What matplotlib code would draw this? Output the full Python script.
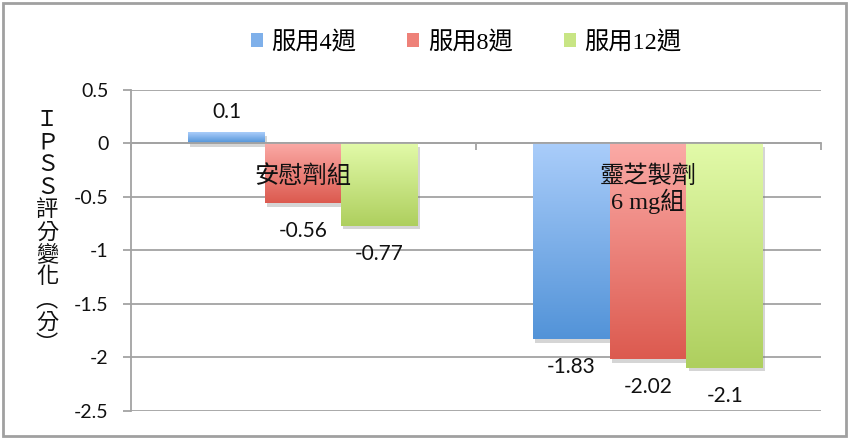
import numpy as np
import matplotlib
matplotlib.use("Agg")
import matplotlib.pyplot as plt
from matplotlib.colors import LinearSegmentedColormap
from matplotlib.patches import Rectangle, Patch
import matplotlib.patheffects as pe

# ---- data ----
categories = ["安慰劑組", "靈芝製劑\n6 mg組"]
series_names = ["服用4週", "服用8週", "服用12週"]
week4 = [0.1, -1.83]
week8 = [-0.56, -2.02]
week12 = [-0.77, -2.1]
yticks = [0.5, 0, -0.5, -1, -1.5, -2, -2.5]
ytick_labels = ["0.5", "0", "-0.5", "-1", "-1.5", "-2", "-2.5"]
ylabel_chars = ["Ｉ", "Ｐ", "Ｓ", "Ｓ", "評", "分", "變", "化", "︵", "分", "︶"]

series = [week4, week8, week12]
light = ["#aacdfa", "#fbaaa6", "#e2faa9"]
dark = ["#5293d8", "#dc5a4f", "#aecf5e"]
mid = ["#7fb0ea", "#ee8179", "#c8e584"]

W, H = 850, 441
fig = plt.figure(figsize=(W / 100, H / 100), dpi=100)
ax = fig.add_axes([130.5 / W, 1 - 410.7 / H, (820.7 - 130.5) / W, (410.7 - 90) / H])

x = np.arange(len(categories))
bw = 0.222
offsets = [-bw, 0, bw]

ax.set_xlim(-0.5, 1.5)
ax.set_ylim(-2.5, 0.5)

grad = np.linspace(0, 1, 256).reshape(-1, 1)
for i, vals in enumerate(series):
    cmap = LinearSegmentedColormap.from_list(f"c{i}", [light[i], dark[i]])
    bars = ax.bar(x + offsets[i], vals, width=bw, color=mid[i], zorder=3,
                  path_effects=[pe.SimplePatchShadow(offset=(1.5, -2.5), alpha=0.3, shadow_rgbFace="#777777"),
                                pe.Normal()])
    for b, v in zip(bars, vals):
        x0 = b.get_x()
        x1 = x0 + b.get_width()
        y_top = max(0, v)
        y_bot = min(0, v)
        ax.imshow(grad, extent=[x0, x1, y_bot, y_top], origin="upper", cmap=cmap,
                  aspect="auto", zorder=4, interpolation="bilinear")
        xc = x0 + b.get_width() / 2
        off = 15 if v > 0 else -20
        ax.annotate(f"{v:g}", (xc, v), xytext=(0, off), textcoords="offset points",
                    ha="center", va="center", fontsize=15, family="Lato", color="#111111", zorder=6)

ax.set_xlim(-0.5, 1.5)
ax.set_ylim(-2.5, 0.5)
ax.set_aspect("auto")

# axes styling
gc = "#a3a3a3"
ax.set_yticks(yticks)
ax.set_yticklabels(ytick_labels, fontsize=14, family="Lato", color="#111111")
ax.yaxis.grid(True, color=gc, lw=1.3, zorder=0)
ax.set_axisbelow(True)
for s in ["top", "right"]:
    ax.spines[s].set_visible(False)
ax.spines["left"].set_color(gc)
ax.spines["left"].set_linewidth(1.3)
ax.spines["bottom"].set_position(("data", 0))
ax.spines["bottom"].set_color(gc)
ax.spines["bottom"].set_linewidth(1.3)
ax.spines["bottom"].set_zorder(5)
ax.set_xticks([-0.5, 0.5, 1.5])
ax.set_xticklabels(["", "", ""])
ax.tick_params(axis="x", direction="out", length=5, color=gc, width=1.3)
ax.tick_params(axis="y", direction="out", length=6, color=gc, width=1.3, pad=10)

# category labels
for xi, cat in zip(x, categories):
    ax.text(xi, -0.2, cat, ha="center", va="top", fontsize=17.5, linespacing=1.05,
            family=["Liberation Serif", "Noto Sans CJK TC"], color="#111111", zorder=7)

# y label (vertical stacked characters)
fig.text(47 / W, 1 - 232 / H, "\n".join(ylabel_chars), ha="center", va="center",
         fontsize=16, linespacing=0.97, family=["Noto Sans CJK TC"], color="#111111")

# legend
handles = [Patch(facecolor=mid[i], edgecolor="none") for i in range(3)]
fig.legend(handles, series_names, loc="center", bbox_to_anchor=(466 / W, 1 - 42 / H), ncol=3,
           frameon=False, handlelength=0.5, handleheight=0.5, handletextpad=0.35,
           columnspacing=2.1, prop={"family": ["Liberation Serif", "Noto Sans CJK TC"], "size": 17.5})

# outer frame
fig.patches.append(Rectangle((3 / W, 5 / H), 843 / W, 433 / H, transform=fig.transFigure,
                             facecolor="none", edgecolor="#a0a0a0", lw=2))

fig.savefig("out.png", dpi=100)
